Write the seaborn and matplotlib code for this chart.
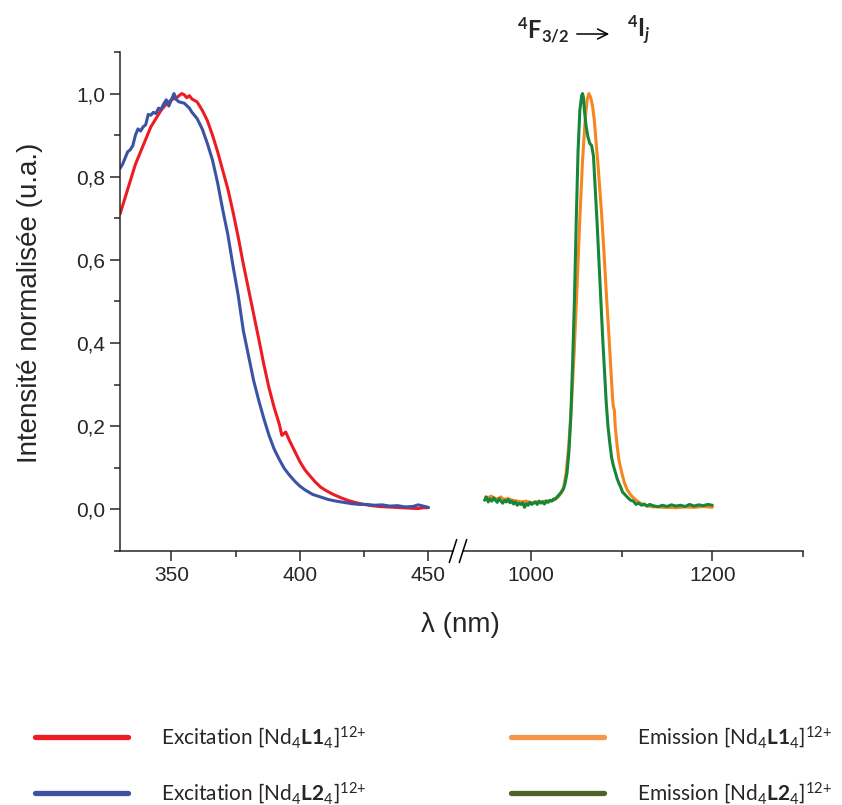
import numpy as np
import pandas as pd
import matplotlib
import matplotlib.pyplot as plt
import seaborn as sns
from matplotlib.lines import Line2D
from matplotlib.ticker import MultipleLocator, FuncFormatter

# donnees
exc_x = [330, 332, 334, 336, 338, 340, 342, 344, 346, 348, 350, 352, 353, 354, 355, 356, 357, 358,
         360, 362, 364, 366, 368, 370, 372, 374, 376, 378, 380, 382, 384, 386, 388, 390, 392, 393,
         394.5, 396, 398, 400, 402, 404, 406, 408, 410, 413, 416, 419, 422, 425, 428, 431, 434, 437,
         440, 443, 446, 448, 450]
exc_L1 = [0.71, 0.75, 0.79, 0.83, 0.86, 0.89, 0.92, 0.94, 0.96, 0.975, 0.985, 0.99, 0.995, 1.0, 0.997,
          0.99, 0.995, 0.987, 0.98, 0.96, 0.935, 0.9, 0.86, 0.815, 0.77, 0.715, 0.655, 0.59, 0.53, 0.47,
          0.41, 0.348, 0.292, 0.245, 0.205, 0.178, 0.186, 0.165, 0.14, 0.115, 0.095, 0.08, 0.066, 0.054,
          0.046, 0.036, 0.028, 0.021, 0.016, 0.012, 0.009, 0.007, 0.006, 0.005, 0.004, 0.003, 0.002,
          0.004, 0.004]

exc2_x = [330, 331, 332, 333, 334, 335, 336, 337, 338, 339, 340, 341, 342, 343, 344, 345, 346, 347,
          348, 349, 350, 351, 352, 353, 355, 357, 358, 360, 362, 364, 366, 368, 370, 372, 374, 376,
          378, 380, 382, 384, 386, 388, 390, 392, 394, 396, 398, 400, 402, 405, 408, 411, 414, 417,
          420, 423, 426, 429, 432, 435, 438, 441, 444, 446, 448, 450]
exc_L2 = [0.82, 0.83, 0.845, 0.86, 0.865, 0.875, 0.9, 0.915, 0.91, 0.92, 0.925, 0.95, 0.948, 0.955,
          0.952, 0.965, 0.962, 0.975, 0.985, 0.97, 0.985, 1.0, 0.985, 0.98, 0.977, 0.965, 0.955, 0.94,
          0.915, 0.88, 0.84, 0.785, 0.72, 0.66, 0.585, 0.515, 0.43, 0.37, 0.31, 0.262, 0.218, 0.178,
          0.145, 0.12, 0.098, 0.082, 0.068, 0.056, 0.047, 0.036, 0.03, 0.024, 0.02, 0.017, 0.014, 0.012,
          0.012, 0.01, 0.011, 0.008, 0.009, 0.006, 0.007, 0.011, 0.008, 0.005]

em_x = [950, 953, 956, 960, 963, 967, 970, 975, 980, 985, 990, 995, 1000, 1005, 1010, 1015, 1020,
        1025, 1030, 1033, 1036, 1039, 1042, 1045, 1048, 1051, 1054, 1057, 1060, 1062, 1064, 1066, 1068,
        1070, 1072, 1074, 1076, 1078, 1080, 1082, 1084, 1086, 1088, 1090, 1091, 1092, 1093, 1095, 1097,
        1100, 1103, 1106, 1110, 1114, 1118, 1122, 1126, 1130, 1135, 1140, 1145, 1150, 1160, 1170, 1180,
        1190, 1200]
em_L1 = [0.03, 0.028, 0.032, 0.027, 0.025, 0.03, 0.024, 0.026, 0.022, 0.02, 0.018, 0.02, 0.016, 0.018,
         0.017, 0.02, 0.02, 0.022, 0.03, 0.038, 0.05, 0.09, 0.16, 0.26, 0.39, 0.54, 0.7, 0.84, 0.94,
         0.985, 1.0, 0.99, 0.97, 0.935, 0.88, 0.83, 0.77, 0.71, 0.64, 0.565, 0.49, 0.42, 0.345, 0.27,
         0.245, 0.24, 0.2, 0.155, 0.12, 0.09, 0.065, 0.048, 0.035, 0.026, 0.019, 0.013, 0.01, 0.008,
         0.006, 0.007, 0.005, 0.005, 0.004, 0.006, 0.005, 0.007, 0.005]

em2_x = [949, 951, 953, 955, 957, 959, 961, 963, 965, 967, 969, 971, 973, 975, 977, 979, 981, 983,
         985, 987, 989, 991, 993, 995, 997, 999, 1001, 1003, 1005, 1007, 1009, 1011, 1013, 1015, 1017,
         1019, 1021, 1023, 1025, 1027, 1029, 1031, 1033, 1036, 1038, 1040, 1042, 1044, 1046, 1048, 1050,
         1052, 1054, 1056, 1057, 1058, 1059, 1061, 1063, 1065, 1067, 1069, 1071, 1073, 1075, 1077, 1079,
         1081, 1083, 1085, 1087, 1089, 1091, 1093, 1095, 1097, 1099, 1101, 1104, 1107, 1110, 1113, 1116,
         1119, 1122, 1125, 1128, 1131, 1135, 1140, 1145, 1150, 1155, 1160, 1165, 1170, 1175, 1180, 1185,
         1190, 1195, 1200]
em_L2 = [0.022, 0.03, 0.018, 0.025, 0.02, 0.028, 0.022, 0.017, 0.026, 0.02, 0.015, 0.022, 0.018, 0.024,
         0.016, 0.02, 0.013, 0.018, 0.01, 0.015, 0.012, 0.016, 0.005, 0.014, 0.01, 0.017, 0.012, 0.015,
         0.018, 0.012, 0.02, 0.015, 0.018, 0.013, 0.02, 0.017, 0.022, 0.02, 0.025, 0.025, 0.03, 0.035,
         0.04, 0.05, 0.065, 0.09, 0.14, 0.22, 0.35, 0.5, 0.69, 0.86, 0.96, 0.995, 1.0, 0.99, 0.96, 0.92,
         0.895, 0.88, 0.875, 0.85, 0.77, 0.69, 0.6, 0.51, 0.42, 0.34, 0.26, 0.2, 0.16, 0.125, 0.105,
         0.09, 0.075, 0.063, 0.054, 0.042, 0.035, 0.028, 0.022, 0.02, 0.012, 0.015, 0.01, 0.013, 0.008,
         0.012, 0.009, 0.006, 0.01, 0.007, 0.011, 0.008, 0.01, 0.007, 0.012, 0.008, 0.011, 0.009, 0.012,
         0.01]

labels = [r'Excitation [Nd$_4$$\mathbf{L1}_4$]$^{12\text{+}}$',
          r'Excitation [Nd$_4$$\mathbf{L2}_4$]$^{12\text{+}}$',
          r'Emission [Nd$_4$$\mathbf{L1}_4$]$^{12\text{+}}$',
          r'Emission [Nd$_4$$\mathbf{L2}_4$]$^{12\text{+}}$']

sns.set_style('ticks')
plt.rcParams['font.family'] = ['Liberation Sans', 'DejaVu Sans']
plt.rcParams['mathtext.fontset'] = 'custom'
plt.rcParams['mathtext.rm'] = 'Lato'
plt.rcParams['mathtext.bf'] = 'Lato:bold'
plt.rcParams['mathtext.it'] = 'Lato:italic:bold'

W, H = 842, 805
fig = plt.figure(figsize=(W / 100, H / 100), dpi=100)

y0 = 1 - 551 / H
hh = (551 - 52) / H
ax1 = fig.add_axes([120 / W, y0, (453 - 120) / W, hh])
ax2 = fig.add_axes([463 / W, y0, (803 - 463) / W, hh])

lw = 2.2
sns.lineplot(x=exc_x, y=exc_L1, ax=ax1, color='#ED1C24', lw=lw, legend=False)
sns.lineplot(x=exc2_x, y=exc_L2, ax=ax1, color='#3B53A4', lw=lw, legend=False)
sns.lineplot(x=em_x, y=em_L1, ax=ax2, color='#F7861F', lw=lw, legend=False)
sns.lineplot(x=em2_x, y=em_L2, ax=ax2, color='#16873A', lw=lw, legend=False)

ax1.set_xlim(330, 459.6)
ax2.set_xlim(925.2, 1300)
for ax in (ax1, ax2):
    ax.set_ylim(-0.1, 1.1)
    ax.spines['top'].set_visible(False)
    ax.spines['right'].set_visible(False)
    for s in ax.spines.values():
        s.set_linewidth(1.1)
    ax.tick_params(which='major', length=7, width=1.1, labelsize=15, direction='out')
    ax.tick_params(which='minor', length=4, width=1.1, direction='out')

ax1.xaxis.set_major_locator(MultipleLocator(50))
ax1.xaxis.set_minor_locator(MultipleLocator(25))
ax2.xaxis.set_major_locator(MultipleLocator(200))
ax2.xaxis.set_minor_locator(MultipleLocator(100))
ax1.yaxis.set_major_locator(MultipleLocator(0.2))
ax1.set_yticks(np.arange(-0.1, 1.15, 0.2), minor=True)
ax1.yaxis.set_major_formatter(FuncFormatter(lambda v, p: f'{v:.1f}'.replace('.', ',').replace('-0,0', '0,0')))
ax2.spines['left'].set_visible(False)
ax2.tick_params(axis='y', which='both', left=False, labelleft=False)

ax1.set_xlabel('')
ax1.set_ylabel('')
ax2.set_xlabel('')
ax2.set_ylabel('')
fig.text(30 / W, 1 - 303 / H, 'Intensité normalisée (u.a.)', fontsize=20, rotation=90,
         ha='center', va='center')
fig.text(460 / W, 1 - 625 / H, 'λ (nm)', fontsize=20, ha='center', va='center')

# marques de coupure de l'axe
for xc in (453, 463):
    fig.add_artist(Line2D([(xc - 3.7) / W, (xc + 3.7) / W], [1 - 562.5 / H, 1 - 539.5 / H],
                          transform=fig.transFigure, color='black', lw=1.1))

# transition
fig.text(517 / W, 1 - 30 / H, r'$^{\mathbf{4}}\mathbf{F}_{\mathbf{3/2}}$', fontsize=17, va='center')
fig.text(627 / W, 1 - 30 / H, r'$^{\mathbf{4}}\mathbf{I}_{j}$', fontsize=17, va='center')
ax1.annotate('', xy=(612 / W, 1 - 34 / H), xytext=(574 / W, 1 - 34 / H), xycoords='figure fraction',
             arrowprops=dict(arrowstyle='->', lw=1.1, color='black', mutation_scale=18))

handles = [Line2D([], [], color='#ED1C24', lw=3.8),
           Line2D([], [], color='#3F51A5', lw=3.8),
           Line2D([], [], color='#F79646', lw=3.8),
           Line2D([], [], color='#4F6228', lw=3.8)]
fig.legend(handles, labels, ncol=2, loc='upper left', bbox_to_anchor=(35 / W, 1 - 724 / H),
           frameon=False, borderpad=0, borderaxespad=0, handlelength=4.47, handletextpad=1.6,
           columnspacing=6.9, labelspacing=1.45, prop={'family': 'Lato', 'size': 15})

fig.savefig('out.png', dpi=100)
